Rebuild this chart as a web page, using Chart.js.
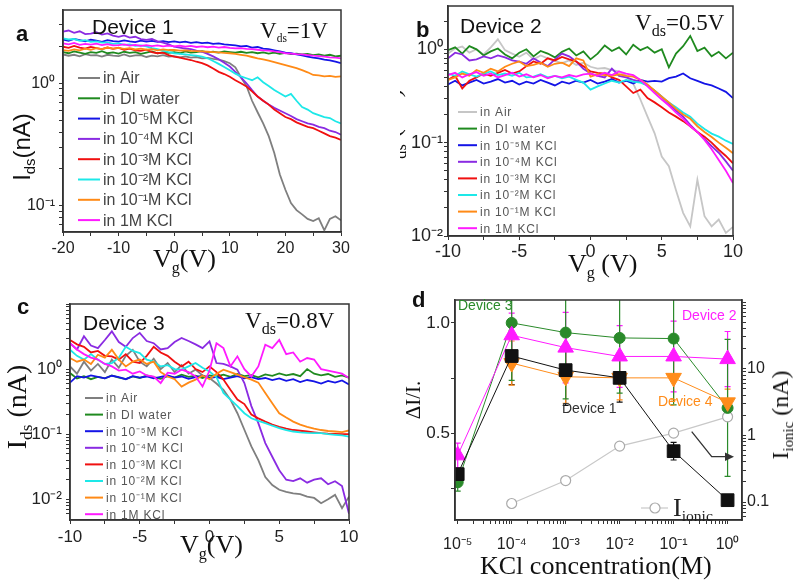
<!DOCTYPE html>
<html>
<head>
<meta charset="utf-8">
<script src="https://cdn.jsdelivr.net/npm/chart.js@4.4.1/dist/chart.umd.min.js"></script>
<style>
  body { margin:0; width:800px; height:581px; position:relative; overflow:hidden; background:#fff; font-family:"Liberation Sans", Arial, sans-serif; }
  canvas { position:absolute; }
  .t { position:absolute; white-space:nowrap; line-height:1; color:#111; }
  .serif { font-family:"Liberation Serif", "Times New Roman", serif; }
  .bold { font-weight:bold; }
  .rc { transform:translate(-50%,-50%) rotate(-90deg); }
  sub { font-size:0.62em; vertical-align:-0.35em; line-height:0; }
</style>
</head>
<body>
<canvas id="chartA" width="400" height="290" style="left:0;top:0"></canvas>
<canvas id="chartB" width="400" height="290" style="left:400px;top:0"></canvas>
<canvas id="chartC" width="400" height="291" style="left:0;top:290px"></canvas>
<canvas id="chartD" width="400" height="291" style="left:400px;top:290px"></canvas>

<!-- panel a -->
<div class="t bold" style="left:16px;top:23px;font-size:22px">a</div>
<div class="t" style="left:92px;top:16px;font-size:21px">Device 1</div>
<div class="t serif" style="left:260px;top:19px;font-size:23px">V<sub style="font-size:0.5em">ds</sub>=1V</div>
<div class="t rc" style="left:22px;top:147px;font-size:24px">I<sub>ds</sub>(nA)</div>
<div class="t serif" style="left:153px;top:246px;font-size:26px">V<sub>g</sub>(V)</div>

<!-- panel b -->
<div class="t bold" style="left:416px;top:19px;font-size:22px">b</div>
<div class="t" style="left:460px;top:15px;font-size:21px">Device 2</div>
<div class="t serif" style="left:635px;top:11px;font-size:23px">V<sub style="font-size:0.7em">ds</sub>=0.5V</div>
<div style="position:absolute;left:400px;top:0;width:30px;height:290px;overflow:hidden">
  <div class="t serif rc" style="left:-8px;top:128px;font-size:26px">I<sub>ds</sub> (nA)</div>
</div>
<div class="t serif" style="left:568px;top:251px;font-size:26px">V<sub>g</sub> (V)</div>

<!-- panel c -->
<div class="t bold" style="left:17px;top:296px;font-size:22px">c</div>
<div class="t" style="left:83px;top:312px;font-size:21px">Device 3</div>
<div class="t serif" style="left:245px;top:309px;font-size:23px">V<sub style="font-size:0.7em">ds</sub>=0.8V</div>
<div class="t serif rc" style="left:17px;top:407px;font-size:28px">I<sub>ds</sub> (nA)</div>
<div class="t serif" style="left:180px;top:532px;font-size:26px">V<sub>g</sub>(V)</div>

<!-- panel d -->
<div class="t bold" style="left:412px;top:289px;font-size:22px">d</div>
<div class="t serif rc" style="left:413px;top:400px;font-size:21px">ΔI/I.</div>
<div class="t serif rc" style="left:780px;top:415px;font-size:24px">I<sub>ionic</sub> (nA)</div>
<div class="t serif" style="left:480px;top:553px;font-size:26px">KCl concentration(M)</div>
<div class="t" style="left:458px;top:298px;font-size:14px;color:#2a8a2a">Device 3</div>
<div class="t" style="left:682px;top:308px;font-size:14px;color:#ff20ff">Device 2</div>
<div class="t" style="left:562px;top:401px;font-size:14px;color:#333">Device 1</div>
<div class="t" style="left:658px;top:394px;font-size:14px;color:#ff8c1a">Device 4</div>
<div class="t serif" style="left:673px;top:495px;font-size:26px;color:#222">I<sub style="font-size:0.6em">ionic</sub></div>

<script>
// ---------- data ----------
var legendLabels = ['in Air', 'in DI water', 'in 10⁻⁵M KCl', 'in 10⁻⁴M KCl', 'in 10⁻³M KCl', 'in 10⁻²M KCl', 'in 10⁻¹M KCl', 'in 1M KCl'];

// panel a, Vg from -20 to 30 V
var vgA = [-20,-19,-18,-17,-16,-15,-14,-13,-12,-11,-10,-9,-8,-7,-6,-5,-4,-3,-2,-1,0,1,2,3,4,5,6,7,8,9,10,11,12,13,14,15,16,17,18,19,20,21,22,23,24,25,26,27,28,29,30];
var airA = [1.72,1.68,1.71,1.66,1.73,1.69,1.70,1.65,1.71,1.68,1.67,1.72,1.66,1.69,1.70,1.64,1.68,1.66,1.70,1.65,1.67,1.63,1.66,1.62,1.64,1.60,1.61,1.58,1.56,1.52,1.46,1.35,1.12,0.95,0.72,0.58,0.47,0.37,0.27,0.18,0.135,0.105,0.092,0.085,0.078,0.075,0.079,0.063,0.078,0.082,0.076];
var diA = [1.80,1.76,1.82,1.78,1.74,1.80,1.77,1.83,1.76,1.79,1.75,1.81,1.77,1.80,1.74,1.78,1.82,1.76,1.79,1.77,1.80,1.76,1.82,1.78,1.80,1.83,1.79,1.81,1.78,1.82,1.80,1.78,1.81,1.77,1.80,1.76,1.79,1.75,1.78,1.74,1.77,1.73,1.75,1.72,1.74,1.70,1.72,1.68,1.71,1.66,1.68];
var k5A = [2.28,2.22,2.30,2.25,2.20,2.27,2.23,2.18,2.25,2.21,2.19,2.24,2.20,2.17,2.23,2.19,2.22,2.18,2.21,2.17,2.20,2.16,2.19,2.14,2.17,2.13,2.15,2.10,2.12,2.08,2.06,2.04,2.00,2.02,1.96,1.98,1.92,1.90,1.86,1.82,1.78,1.76,1.72,1.69,1.65,1.62,1.60,1.56,1.54,1.50,1.46];
var k4A = [2.64,2.70,2.58,2.66,2.52,2.55,2.61,2.50,2.56,2.45,2.40,2.46,2.36,2.40,2.30,2.26,2.30,2.20,2.15,2.08,1.99,1.96,1.92,1.90,1.85,1.81,1.74,1.66,1.57,1.47,1.37,1.24,1.12,1.00,0.88,0.78,0.72,0.67,0.63,0.60,0.57,0.54,0.51,0.49,0.47,0.46,0.44,0.43,0.41,0.40,0.38];
var k3A = [1.99,1.95,2.02,1.96,1.92,1.98,1.94,1.90,1.96,1.91,1.95,1.88,1.92,1.86,1.84,1.88,1.80,1.76,1.78,1.70,1.65,1.62,1.58,1.55,1.50,1.46,1.40,1.32,1.24,1.19,1.13,1.06,1.00,0.94,0.86,0.78,0.72,0.67,0.61,0.57,0.53,0.51,0.48,0.46,0.44,0.43,0.41,0.39,0.37,0.36,0.345];
var k2A = [2.33,2.28,2.30,2.22,2.25,2.18,2.20,2.15,2.16,2.10,2.12,2.06,2.08,2.02,2.04,2.00,1.94,1.90,1.85,1.80,1.76,1.74,1.72,1.70,1.68,1.65,1.60,1.52,1.44,1.36,1.28,1.20,1.14,1.10,1.06,1.12,1.02,0.95,0.88,0.83,0.78,0.82,0.72,0.64,0.61,0.57,0.55,0.53,0.52,0.49,0.47];
var k1A = [1.87,1.84,1.89,1.86,1.92,1.88,1.94,1.90,1.96,1.92,1.95,1.91,1.94,1.89,1.92,1.88,1.90,1.86,1.89,1.87,1.87,1.85,1.86,1.84,1.83,1.82,1.81,1.80,1.79,1.77,1.76,1.74,1.71,1.68,1.64,1.60,1.57,1.53,1.49,1.45,1.41,1.37,1.33,1.28,1.23,1.17,1.16,1.14,1.15,1.13,1.14];
var k0A = [2.12,2.08,2.14,2.06,2.10,2.07,2.11,2.05,2.09,2.04,2.05,2.08,2.03,2.06,2.02,2.05,2.01,2.04,2.00,2.03,2.00,2.03,1.99,2.02,1.98,2.00,1.97,1.99,1.96,1.98,1.95,1.93,1.94,1.91,1.90,1.88,1.86,1.85,1.82,1.80,1.76,1.75,1.73,1.72,1.70,1.68,1.67,1.65,1.63,1.62,1.60];

// panels b and c, Vg from -10 to 10 V
var vgBC = [-10,-9.5,-9,-8.5,-8,-7.5,-7,-6.5,-6,-5.5,-5,-4.5,-4,-3.5,-3,-2.5,-2,-1.5,-1,-0.5,0,0.5,1,1.5,2,2.5,3,3.5,4,4.5,5,5.5,6,6.5,7,7.5,8,8.5,9,9.5,10];

var airB = [0.90,1.02,1.07,0.92,1.00,0.88,1.05,1.28,0.98,0.90,0.83,0.92,0.78,0.86,0.80,0.75,0.71,0.76,0.68,0.72,0.65,0.62,0.63,0.60,0.58,0.52,0.43,0.29,0.19,0.126,0.071,0.056,0.031,0.0177,0.0127,0.040,0.0163,0.0127,0.015,0.0108,0.0125];
var diB = [0.98,1.05,0.90,1.08,1.00,0.86,0.95,1.02,0.88,0.80,0.92,1.00,0.84,0.96,0.90,0.82,0.94,1.02,0.86,0.95,0.78,0.90,1.10,0.96,1.05,0.88,1.12,0.98,1.06,0.92,1.00,0.64,0.90,1.08,1.39,0.96,1.04,0.84,0.94,0.80,0.92];
var k5B = [0.42,0.46,0.41,0.44,0.47,0.43,0.45,0.48,0.44,0.46,0.42,0.45,0.43,0.47,0.44,0.41,0.45,0.43,0.46,0.44,0.47,0.43,0.45,0.48,0.44,0.46,0.43,0.47,0.45,0.46,0.45,0.49,0.51,0.55,0.49,0.46,0.43,0.41,0.38,0.35,0.30];
var k4B = [0.80,0.92,0.88,0.76,0.78,0.84,0.80,0.86,0.82,0.76,0.74,0.70,0.80,0.72,0.66,0.78,0.90,0.84,0.74,0.62,0.55,0.52,0.50,0.62,0.52,0.50,0.47,0.45,0.41,0.36,0.31,0.26,0.22,0.19,0.155,0.13,0.11,0.092,0.078,0.063,0.050];
var k3B = [0.47,0.52,0.38,0.46,0.50,0.55,0.52,0.56,0.60,0.55,0.58,0.66,0.74,0.70,0.80,0.76,0.83,0.78,0.74,0.66,0.58,0.56,0.55,0.50,0.47,0.40,0.34,0.37,0.30,0.27,0.24,0.21,0.19,0.17,0.15,0.13,0.116,0.10,0.084,0.072,0.060];
var k2B = [0.55,0.52,0.58,0.54,0.51,0.55,0.58,0.53,0.55,0.52,0.56,0.50,0.51,0.54,0.50,0.52,0.49,0.51,0.47,0.44,0.37,0.40,0.43,0.46,0.44,0.47,0.45,0.44,0.41,0.36,0.31,0.27,0.24,0.21,0.19,0.16,0.14,0.125,0.116,0.105,0.097];
var k1B = [0.47,0.50,0.55,0.52,0.60,0.56,0.62,0.58,0.65,0.70,0.74,0.66,0.68,0.72,0.65,0.70,0.72,0.66,0.80,0.76,0.51,0.54,0.53,0.52,0.54,0.52,0.51,0.47,0.42,0.36,0.31,0.27,0.23,0.20,0.18,0.15,0.13,0.115,0.10,0.088,0.077];
var k0B = [0.53,0.56,0.50,0.54,0.57,0.52,0.55,0.50,0.53,0.56,0.51,0.54,0.50,0.53,0.49,0.52,0.50,0.53,0.51,0.54,0.55,0.52,0.56,0.53,0.58,0.55,0.53,0.47,0.40,0.34,0.29,0.25,0.21,0.18,0.15,0.13,0.107,0.085,0.065,0.05,0.037];

var airC = [1.10,0.85,1.30,0.95,1.20,0.90,1.40,1.05,1.60,1.98,1.30,1.10,1.45,1.00,1.24,0.90,1.15,0.85,0.98,0.80,0.73,0.60,0.48,0.34,0.21,0.117,0.065,0.040,0.022,0.0166,0.014,0.013,0.0123,0.012,0.011,0.0105,0.0087,0.010,0.0117,0.0073,0.011];
var diC = [0.87,0.72,0.78,0.70,0.76,0.72,0.80,0.74,0.70,0.77,0.73,0.80,0.75,0.71,0.78,0.74,0.82,0.76,0.79,0.73,0.80,0.77,0.82,0.76,0.84,0.78,0.81,0.75,0.83,0.79,0.86,0.80,0.84,0.78,1.00,0.85,0.80,0.84,0.76,0.80,0.74];
var k5C = [0.62,0.78,0.74,0.80,0.76,0.72,0.79,0.75,0.70,0.78,0.74,0.77,0.72,0.76,0.80,0.74,0.77,0.71,0.75,0.79,0.73,0.76,0.70,0.74,0.78,0.72,0.75,0.70,0.73,0.68,0.72,0.66,0.70,0.63,0.68,0.65,0.60,0.66,0.62,0.67,0.58];
var k4C = [2.50,2.00,3.20,2.30,2.10,2.80,3.80,2.60,2.20,3.00,3.60,2.70,2.50,2.00,2.10,2.60,3.00,2.70,2.40,2.10,2.66,1.24,1.20,1.10,0.98,0.61,0.27,0.148,0.073,0.045,0.028,0.020,0.019,0.021,0.018,0.020,0.021,0.017,0.019,0.016,0.006];
var k3C = [2.80,2.40,2.20,1.80,1.90,1.60,1.57,1.40,1.70,1.30,1.24,1.60,2.20,1.80,1.60,1.30,1.10,1.30,1.00,0.90,1.10,0.90,0.69,0.48,0.34,0.29,0.20,0.175,0.156,0.14,0.13,0.122,0.116,0.113,0.110,0.107,0.104,0.102,0.101,0.100,0.100];
var k2C = [1.98,1.60,1.40,1.70,1.39,1.20,1.24,1.50,2.20,1.90,1.76,1.40,1.30,1.10,1.15,1.00,0.98,1.10,1.24,1.05,0.92,0.75,0.43,0.34,0.27,0.21,0.176,0.16,0.148,0.135,0.124,0.116,0.110,0.107,0.105,0.104,0.104,0.100,0.098,0.096,0.092];
var k1C = [1.48,1.30,1.40,1.20,1.66,1.50,1.98,1.40,1.10,1.30,1.40,1.20,1.30,0.90,0.77,0.70,0.54,0.62,0.69,0.80,0.70,0.85,0.98,0.90,0.82,0.75,0.69,0.62,0.43,0.30,0.21,0.18,0.156,0.14,0.13,0.122,0.116,0.112,0.110,0.108,0.114];
var k0C = [2.50,2.00,1.70,1.50,1.40,1.20,1.10,0.95,0.98,0.85,0.92,0.80,0.77,0.61,0.88,0.85,0.98,0.90,0.77,0.54,0.95,2.50,2.10,1.10,1.57,1.00,0.77,1.10,2.37,2.10,2.80,1.70,1.80,1.30,1.48,1.40,1.00,0.95,0.90,0.85,0.73];

// panel d
var concD = [1e-5, 1e-4, 1e-3, 1e-2, 1e-1, 1];
var dev1 = [0.315, 0.85, 0.786, 0.751, 0.419, 0.197];
var err1 = [0.03, 0.13, 0.16, 0.11, 0.04, 0.012];
var dev2 = [0.40, 0.944, 0.888, 0.848, 0.848, 0.836];
var err2 = [0.055, 0.10, 0.16, 0.14, 0.16, 0.125];
var dev3 = [0.278, 1.0, 0.956, 0.932, 0.929, 0.615];
var err3 = [0.04, 0.26, 0.30, 0.25, 0.30, 0.31];
var dev4 = [null, 0.818, 0.756, 0.751, 0.751, 0.64];
var err4 = [null, 0.10, 0.12, 0.10, 0.10, 0.06];
var ionic = [null, 0.095, 0.21, 0.69, 1.08, 1.9];

var colorsA = ['#7f7f7f', '#1f8a1f', '#1414e6', '#8a2be2', '#f01010', '#1de8e8', '#ff8a16', '#ff1aff'];
var colorsB = ['#c6c6c6', '#1f8a1f', '#1414e6', '#8a2be2', '#f01010', '#1de8e8', '#ff8a16', '#ff1aff'];

// ---------- helpers ----------
function sup(s) {
    return s.replace(/[-0-9]/g, function (c) { return '⁻⁰¹²³⁴⁵⁶⁷⁸⁹'['-0123456789'.indexOf(c)]; });
}

function powLabel(v) {
    var e = Math.log10(v), r = Math.round(e);
    return Math.abs(e - r) < 1e-6 ? '10' + sup(String(r)) : '';
}

// keep 1..9 x 10^n ticks only (drop the min/max ticks chart.js adds)
function logTicks(scale) {
    scale.ticks = scale.ticks.filter(function (t) {
        var e = Math.floor(Math.log10(t.value) + 1e-9);
        var m = t.value / Math.pow(10, e);
        return Math.abs(m - Math.round(m)) < 1e-6;
    });
}

function fixSize(prop, size) {
    return function (s) {
        s[prop] = size;
        s.paddingTop = s.paddingBottom = s.paddingLeft = s.paddingRight = 0;
    };
}

function pts(xs, ys) {
    return xs.map(function (x, i) { return { x: x, y: ys[i] }; });
}

var framePlugin = {
    id: 'frame',
    afterDraw: function (chart) {
        var a = chart.chartArea, ctx = chart.ctx;
        ctx.save();
        ctx.strokeStyle = '#333';
        ctx.lineWidth = 1.5;
        ctx.strokeRect(a.left, a.top, a.right - a.left, a.bottom - a.top);
        ctx.restore();
    }
};

var insideLegend = {
    id: 'insideLegend',
    afterDatasetsDraw: function (chart, args, opts) {
        if (!opts || opts.x === undefined) return;
        var ctx = chart.ctx;
        ctx.save();
        ctx.font = opts.font;
        ctx.textBaseline = 'middle';
        if (opts.spacing) ctx.letterSpacing = opts.spacing;
        chart.data.datasets.forEach(function (ds, i) {
            var y = opts.y + i * opts.dy;
            ctx.strokeStyle = ds.borderColor;
            ctx.lineWidth = 2;
            ctx.beginPath();
            ctx.moveTo(opts.x, y);
            ctx.lineTo(opts.x + opts.len, y);
            ctx.stroke();
            ctx.fillStyle = opts.color;
            ctx.fillText(ds.label, opts.x + opts.len + 3, y + 1);
        });
        ctx.restore();
    }
};

var axisLine = { color: '#333', width: 1.5 };
var tickGrid = { drawOnChartArea: false, tickLength: 4, color: '#333' };

function sweepChart(id, xs, series, colors, o) {
    var datasets = series.map(function (vals, i) {
        return {
            label: legendLabels[i],
            data: pts(xs, vals),
            borderColor: colors[i],
            borderWidth: 1.8,
            pointRadius: 0,
            order: 10 - i
        };
    });
    return new Chart(document.getElementById(id), {
        type: 'line',
        data: { datasets: datasets },
        options: {
            responsive: false,
            animation: false,
            events: [],
            layout: { padding: o.padding },
            plugins: {
                legend: { display: false },
                tooltip: { enabled: false },
                insideLegend: o.legend
            },
            scales: {
                x: {
                    type: 'linear', min: xs[0], max: xs[xs.length - 1],
                    afterFit: fixSize('height', o.xH),
                    ticks: {
                        stepSize: o.xStep, autoSkip: false, maxRotation: 0, padding: o.xPad,
                        color: '#222', font: { family: 'Liberation Sans', size: o.fs },
                        callback: function (v) { return v % o.xLab === 0 ? String(v) : ''; }
                    },
                    grid: tickGrid, border: axisLine
                },
                y: {
                    type: 'logarithmic', min: o.yMin, max: o.yMax,
                    afterFit: fixSize('width', o.yW),
                    afterBuildTicks: logTicks,
                    ticks: {
                        autoSkip: false, padding: o.yPad, color: '#222',
                        font: { family: 'Liberation Sans', size: o.fs },
                        callback: function (v) { return v <= 1.0001 ? powLabel(v) : ''; }
                    },
                    grid: tickGrid, border: axisLine
                }
            }
        },
        plugins: [insideLegend, framePlugin]
    });
}

// ---------- panels a, b, c ----------
sweepChart('chartA', vgA, [airA, diA, k5A, k4A, k3A, k2A, k1A, k0A], colorsA, {
    padding: { left: 0, top: 10, right: 59, bottom: 0 }, xH: 58, yW: 63,
    xStep: 5, xLab: 10, xPad: 3, yPad: 4, fs: 16,
    yMin: 0.061, yMax: 3.97,
    legend: { x: 78, y: 78, dy: 20.3, len: 22, font: '16px "Liberation Sans"', color: '#444' }
});

sweepChart('chartB', vgBC, [airB, diB, k5B, k4B, k3B, k2B, k1B, k0B], colorsB, {
    padding: { left: 0, top: 6, right: 67, bottom: 0 }, xH: 54, yW: 48,
    xStep: 2.5, xLab: 5, xPad: 1, yPad: 1, fs: 18,
    yMin: 0.01, yMax: 2.91,
    legend: { x: 58, y: 112, dy: 16.6, len: 19, font: '12px "Liberation Sans"', color: '#555', spacing: '0.8px' }
});

sweepChart('chartC', vgBC, [airC, diC, k5C, k4C, k3C, k2C, k1C, k0C], colorsA, {
    padding: { left: 0, top: 14, right: 51, bottom: 0 }, xH: 61, yW: 70,
    xStep: 2.5, xLab: 5, xPad: 3, yPad: 4, fs: 17,
    yMin: 0.00481, yMax: 10,
    legend: { x: 85, y: 108, dy: 16.6, len: 18, font: '12px "Liberation Sans"', color: '#555', spacing: '0.8px' }
});

// ---------- panel d ----------
var errorBars = {
    id: 'errorBars',
    beforeDatasetsDraw: function (chart) {
        var ctx = chart.ctx, a = chart.chartArea;
        ctx.save();
        ctx.beginPath();
        ctx.rect(a.left, a.top, a.right - a.left, a.bottom - a.top);
        ctx.clip();
        chart.data.datasets.forEach(function (ds, i) {
            if (!ds.errors) return;
            var meta = chart.getDatasetMeta(i), ys = chart.scales[ds.yAxisID || 'y'];
            ctx.strokeStyle = ds.borderColor;
            ctx.lineWidth = 1.2;
            meta.data.forEach(function (p, j) {
                var e = ds.errors[j], v = ds.data[j].y;
                if (e == null || v == null) return;
                var y1 = ys.getPixelForValue(v + e), y2 = ys.getPixelForValue(v - e);
                ctx.beginPath();
                ctx.moveTo(p.x, y1); ctx.lineTo(p.x, y2);
                ctx.moveTo(p.x - 3, y1); ctx.lineTo(p.x + 3, y1);
                ctx.moveTo(p.x - 3, y2); ctx.lineTo(p.x + 3, y2);
                ctx.stroke();
            });
        });
        ctx.restore();
    }
};

var notesD = {
    id: 'notesD',
    afterDraw: function (chart) {
        var ctx = chart.ctx, ds = chart.data.datasets[4];
        ctx.save();
        // arrow pointing to the right-hand axis
        ctx.strokeStyle = '#333';
        ctx.fillStyle = '#333';
        ctx.lineWidth = 1.3;
        ctx.beginPath();
        ctx.moveTo(291.7, 141.7); ctx.lineTo(311.7, 166.7); ctx.lineTo(327, 166.7);
        ctx.stroke();
        ctx.beginPath();
        ctx.moveTo(334, 166.7); ctx.lineTo(325, 162.5); ctx.lineTo(325, 170.9); ctx.closePath();
        ctx.fill();
        // key for the ionic current curve
        ctx.strokeStyle = ds.borderColor;
        ctx.lineWidth = 1.2;
        ctx.beginPath();
        ctx.moveTo(241, 218); ctx.lineTo(268, 218);
        ctx.stroke();
        ctx.beginPath();
        ctx.arc(255, 218, 5, 0, Math.PI * 2);
        ctx.fillStyle = '#fff';
        ctx.fill();
        ctx.strokeStyle = ds.pointBorderColor;
        ctx.stroke();
        ctx.restore();
    }
};

new Chart(document.getElementById('chartD'), {
    type: 'line',
    data: {
        datasets: [
            { label: 'Device 1', data: pts(concD, dev1), errors: err1, borderColor: '#111', backgroundColor: '#111',
              pointStyle: 'rect', pointRadius: 9, borderWidth: 1 },
            { label: 'Device 4', data: pts(concD, dev4), errors: err4, borderColor: '#ff8c1a', backgroundColor: '#ff8c1a',
              pointStyle: 'triangle', pointRotation: 180, pointRadius: 9, borderWidth: 1 },
            { label: 'Device 2', data: pts(concD, dev2), errors: err2, borderColor: '#ff1aff', backgroundColor: '#ff1aff',
              pointStyle: 'triangle', pointRadius: 9, borderWidth: 1 },
            { label: 'Device 3', data: pts(concD, dev3), errors: err3, borderColor: '#2a8a2a', backgroundColor: '#2a8a2a',
              pointStyle: 'circle', pointRadius: 5.5, borderWidth: 1 },
            { label: 'I ionic', data: pts(concD, ionic), yAxisID: 'y2', borderColor: '#c8c8c8', backgroundColor: '#fff',
              pointBackgroundColor: '#fff', pointBorderColor: '#aaa', pointRadius: 5, borderWidth: 1.2 }
        ]
    },
    options: {
        responsive: false,
        animation: false,
        events: [],
        layout: { padding: { left: 0, top: 6, right: 0, bottom: 0 } },
        plugins: { legend: { display: false }, tooltip: { enabled: false } },
        scales: {
            x: {
                type: 'logarithmic', min: 8.91e-6, max: 1.85,
                afterFit: fixSize('height', 61),
                afterBuildTicks: logTicks,
                ticks: { autoSkip: false, maxRotation: 0, padding: 11, color: '#222',
                         font: { family: 'Liberation Sans', size: 16 }, callback: powLabel },
                grid: tickGrid, border: axisLine
            },
            y: {
                type: 'linear', min: 0.1072, max: 1.1037,
                afterFit: fixSize('width', 55),
                afterBuildTicks: function (s) {
                    s.ticks = s.ticks.filter(function (t) { return Math.abs(t.value / 0.25 - Math.round(t.value / 0.25)) < 1e-6; });
                },
                ticks: { stepSize: 0.25, autoSkip: false, padding: 1, color: '#222',
                         font: { family: 'Liberation Sans', size: 17 },
                         callback: function (v) { return (Math.abs(v - 0.5) < 1e-6 || Math.abs(v - 1) < 1e-6) ? v.toFixed(1) : ''; } },
                grid: tickGrid, border: axisLine
            },
            y2: {
                type: 'logarithmic', position: 'right', min: 0.0537, max: 107.6,
                afterFit: fixSize('width', 58),
                afterBuildTicks: logTicks,
                ticks: { autoSkip: false, padding: 1, color: '#222',
                         font: { family: 'Liberation Sans', size: 16 },
                         callback: function (v) {
                             var e = Math.log10(v);
                             return (Math.abs(e - Math.round(e)) < 1e-6 && Math.abs(e) < 1.5) ? String(Math.round(v * 10) / 10) : '';
                         } },
                grid: tickGrid, border: axisLine
            }
        }
    },
    plugins: [errorBars, framePlugin, notesD]
});
</script>
</body>
</html>
